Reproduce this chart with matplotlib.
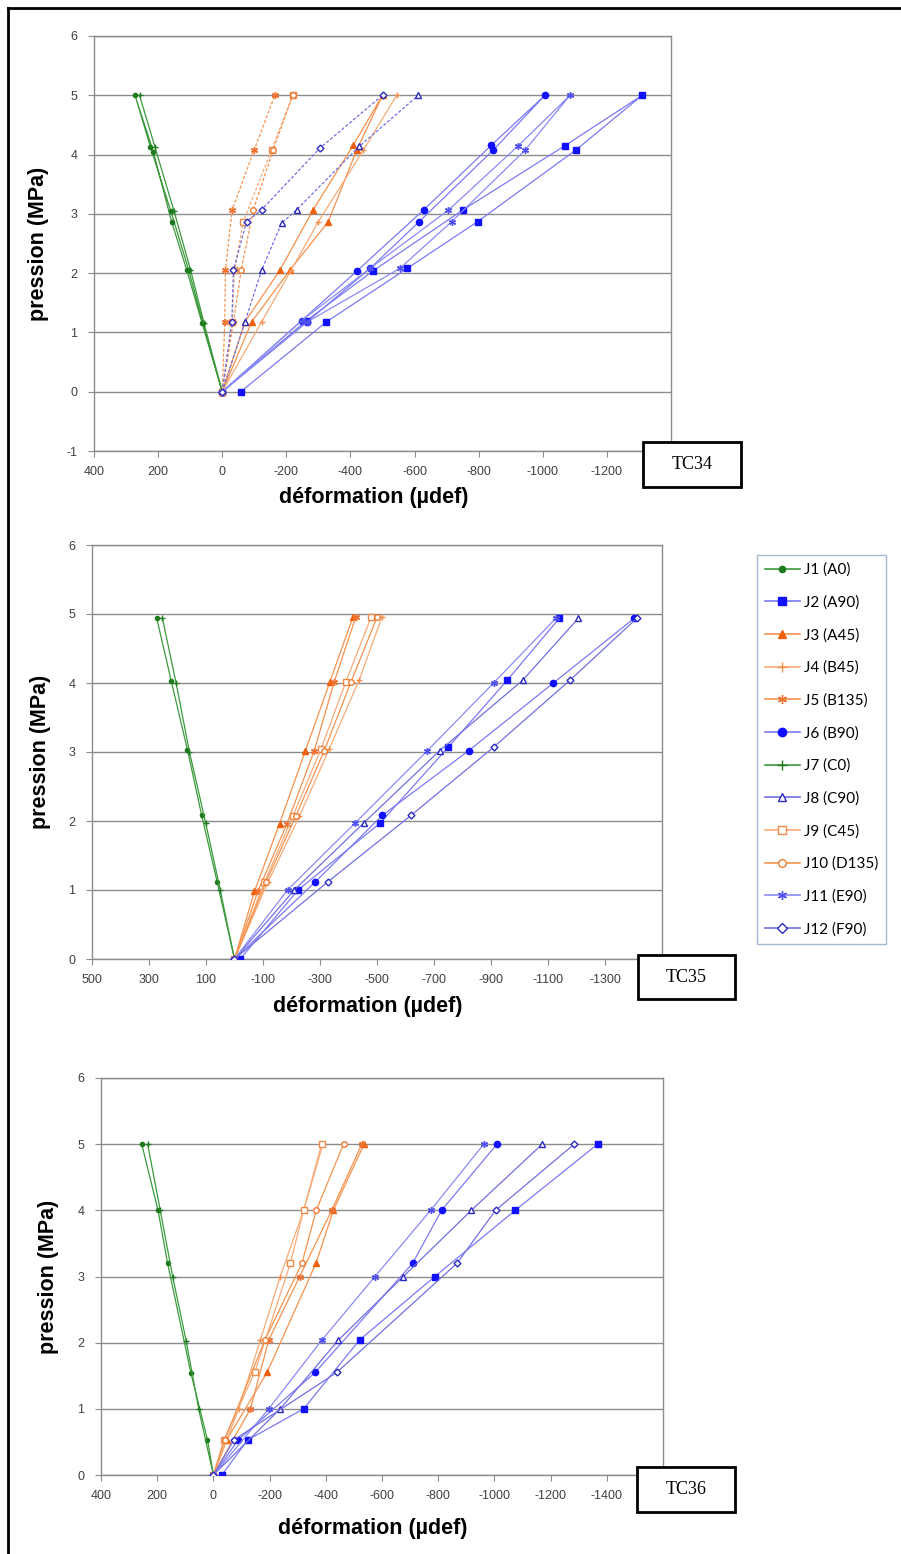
import matplotlib
matplotlib.use('Agg')
import matplotlib.pyplot as plt
from matplotlib.lines import Line2D
from matplotlib.patches import Rectangle

plt.rcParams['font.family'] = ['Liberation Sans', 'DejaVu Sans']
plt.rcParams['axes.unicode_minus'] = False

series = ['J1', 'J2', 'J3', 'J4', 'J5', 'J6', 'J7', 'J8', 'J9', 'J10', 'J11', 'J12']
legend_labels = ['J1 (A0)', 'J2 (A90)', 'J3 (A45)', 'J4 (B45)', 'J5 (B135)', 'J6 (B90)',
                 'J7 (C0)', 'J8 (C90)', 'J9 (C45)', 'J10 (D135)', 'J11 (E90)', 'J12 (F90)']

# ---- TC34 (pression MPa / deformation udef), load + unload loops
tc34_p_j1 = [0, 1.16, 2.06, 2.87, 4.05, 5.0, 4.13, 3.04, 2.06, 1.16, 0]
tc34_s_j1 = [0, 63, 111, 158, 215, 272, 224, 160, 105, 60, 0]
tc34_p_j7 = [0, 1.16, 2.06, 3.04, 4.13, 5.0]
tc34_s_j7 = [0, 57, 99, 150, 210, 258]
tc34_p_j3 = [0, 1.18, 2.05, 2.87, 4.07, 5.0, 4.16, 3.07, 2.05, 1.18, 0]
tc34_s_j3 = [0, -92, -211, -331, -419, -500, -409, -284, -180, -71, 0]
tc34_p_j4 = [0, 1.18, 2.05, 2.87, 4.07, 5.0]
tc34_s_j4 = [0, -123, -215, -300, -440, -544]
tc34_p_j5 = [0, 1.18, 2.05, 3.07, 4.08, 5.0]
tc34_s_j5 = [0, -8, -10, -31, -100, -164]
tc34_p_j9 = [0, 1.18, 2.05, 2.87, 4.08, 5.0]
tc34_s_j9 = [0, -31, -38, -66, -154, -220]
tc34_p_j10 = [0, 1.18, 2.05, 3.07, 4.08, 5.0]
tc34_s_j10 = [0, -35, -59, -97, -159, -220]
tc34_p_j8 = [0, 1.18, 2.05, 2.84, 3.07, 4.14, 5.0]
tc34_s_j8 = [0, -71, -123, -185, -232, -428, -612]
tc34_p_j12 = [0, 1.18, 2.05, 2.87, 3.07, 4.11, 5.0]
tc34_s_j12 = [0, -30, -35, -76, -123, -305, -500]
tc34_p_j2 = [0, 1.17, 2.08, 2.87, 4.08, 5.0, 4.15, 3.07, 2.04, 1.20, 0]
tc34_s_j2 = [-58, -323, -577, -797, -1104, -1310, -1069, -752, -471, -263, 0]
tc34_p_j6 = [0, 1.20, 2.04, 3.07, 4.16, 5.0, 4.08, 2.87, 2.08, 1.17, 0]
tc34_s_j6 = [0, -248, -421, -629, -840, -1007, -846, -615, -461, -263, 0]
tc34_p_j11 = [0, 1.17, 2.08, 2.87, 4.07, 5.0, 4.15, 3.06, 2.08, 1.20, 0]
tc34_s_j11 = [0, -263, -554, -716, -944, -1085, -924, -705, -461, -248, 0]

# ---- TC35
tc35_p_j1 = [0, 1.12, 2.08, 3.03, 4.03, 4.94]
tc35_s_j1 = [0, 61, 115, 165, 222, 273]
tc35_p_j7 = [0, 1.0, 1.97, 3.0, 4.0, 4.94]
tc35_s_j7 = [0, 50, 101, 158, 205, 253]
tc35_p_j3 = [0, 0.98, 1.96, 3.02, 4.02, 4.95]
tc35_s_j3 = [0, -70, -158, -249, -335, -415]
tc35_p_j4 = [0, 1.11, 2.07, 3.05, 4.05, 4.95]
tc35_s_j4 = [0, -117, -228, -333, -438, -517]
tc35_p_j5 = [0, 0.98, 1.96, 3.02, 4.02, 4.95]
tc35_s_j5 = [0, -82, -184, -280, -350, -425]
tc35_p_j9 = [0, 1.11, 2.07, 3.05, 4.02, 4.95]
tc35_s_j9 = [0, -105, -205, -304, -391, -479]
tc35_p_j10 = [0, 1.11, 2.07, 3.02, 4.02, 4.95]
tc35_s_j10 = [0, -110, -215, -315, -409, -500]
tc35_p_j11 = [0, 1.0, 1.97, 3.02, 4.0, 4.94]
tc35_s_j11 = [0, -186, -423, -677, -909, -1128]
tc35_p_j2 = [0, 1.0, 1.97, 3.07, 4.04, 4.94]
tc35_s_j2 = [-20, -223, -511, -750, -957, -1140]
tc35_p_j8 = [0, 1.0, 1.97, 3.02, 4.04, 4.94]
tc35_s_j8 = [0, -210, -453, -720, -1011, -1207]
tc35_p_j6 = [0, 1.12, 2.08, 3.02, 4.0, 4.94]
tc35_s_j6 = [0, -284, -518, -822, -1119, -1403]
tc35_p_j12 = [0, 1.12, 2.08, 3.07, 4.04, 4.94]
tc35_s_j12 = [0, -328, -619, -909, -1177, -1412]

# ---- TC36
tc36_p_j1 = [0, 0.53, 1.54, 3.2, 4.0, 5.0]
tc36_s_j1 = [0, 21, 80, 163, 197, 255]
tc36_p_j7 = [0, 0.99, 2.03, 3.0, 4.0, 5.0]
tc36_s_j7 = [0, 52, 97, 145, 189, 234]
tc36_p_j3 = [0, 0.53, 1.55, 3.2, 4.0, 5.0]
tc36_s_j3 = [0, -47, -191, -365, -427, -536]
tc36_p_j4 = [0, 1.0, 2.04, 3.0, 4.0, 5.0]
tc36_s_j4 = [0, -90, -167, -238, -321, -390]
tc36_p_j5 = [0, 1.0, 2.04, 3.0, 4.0, 5.0]
tc36_s_j5 = [0, -132, -197, -307, -421, -528]
tc36_p_j9 = [0, 0.53, 1.55, 3.2, 4.0, 5.0]
tc36_s_j9 = [0, -37, -147, -274, -321, -385]
tc36_p_j10 = [0, 0.53, 2.04, 3.2, 4.0, 5.0]
tc36_s_j10 = [0, -40, -183, -315, -366, -463]
tc36_p_j11 = [0, 1.0, 2.04, 3.0, 4.0, 5.0]
tc36_s_j11 = [0, -197, -386, -575, -773, -962]
tc36_p_j6 = [0, 0.53, 1.55, 3.2, 4.0, 5.0]
tc36_s_j6 = [0, -88, -362, -709, -812, -1009]
tc36_p_j8 = [0, 1.0, 2.04, 3.0, 4.0, 5.0]
tc36_s_j8 = [0, -238, -445, -676, -918, -1170]
tc36_p_j12 = [0, 0.53, 1.55, 3.2, 4.0, 5.0]
tc36_s_j12 = [0, -73, -439, -867, -1004, -1284]
tc36_p_j2 = [0, 0.53, 1.0, 2.04, 3.0, 4.0, 5.0]
tc36_s_j2 = [-30, -122, -321, -520, -788, -1074, -1367]

# ---- styles: line colour, marker, marker colour, filled, marker size
styles = {
    'J1': ('#3c9a3c', 'o', '#1e7a1e', True, 3),
    'J2': ('#7a7af2', 's', '#1010ff', True, 4.5),
    'J3': ('#f5924e', '^', '#f0600a', True, 4),
    'J4': ('#f7ab78', '+', '#f29050', True, 5),
    'J5': ('#f5924e', (6, 2, 0), '#f07030', True, 5),
    'J6': ('#7a7af2', 'o', '#1010ff', True, 4.5),
    'J7': ('#3c9a3c', '+', '#1e7a1e', True, 5),
    'J8': ('#7070e0', '^', '#2a2ac0', False, 4),
    'J9': ('#f7ab78', 's', '#f08a48', False, 4),
    'J10': ('#f5924e', 'o', '#f07a30', False, 4),
    'J11': ('#8a8af5', (6, 2, 0), '#5050f0', True, 5),
    'J12': ('#7070e0', 'D', '#2a2ac0', False, 3.5),
}

panels = [
    dict(name='TC34', box=(94, 36, 671, 451), xlim=(400, -1400), ylim=(-1, 6),
         ylab_x=-0.097, xlab_y=-0.111, tc=(643, 442, 741, 487),
         dashed=['J5', 'J9', 'J10', 'J8', 'J12'],
         data={'J1': (tc34_p_j1, tc34_s_j1), 'J2': (tc34_p_j2, tc34_s_j2),
               'J3': (tc34_p_j3, tc34_s_j3), 'J4': (tc34_p_j4, tc34_s_j4),
               'J5': (tc34_p_j5, tc34_s_j5), 'J6': (tc34_p_j6, tc34_s_j6),
               'J7': (tc34_p_j7, tc34_s_j7), 'J8': (tc34_p_j8, tc34_s_j8),
               'J9': (tc34_p_j9, tc34_s_j9), 'J10': (tc34_p_j10, tc34_s_j10),
               'J11': (tc34_p_j11, tc34_s_j11), 'J12': (tc34_p_j12, tc34_s_j12)}),
    dict(name='TC35', box=(92, 545, 662, 959), xlim=(500, -1500), ylim=(0, 6),
         ylab_x=-0.091, xlab_y=-0.114, tc=(638, 955, 735, 999), dashed=[],
         data={'J1': (tc35_p_j1, tc35_s_j1), 'J2': (tc35_p_j2, tc35_s_j2),
               'J3': (tc35_p_j3, tc35_s_j3), 'J4': (tc35_p_j4, tc35_s_j4),
               'J5': (tc35_p_j5, tc35_s_j5), 'J6': (tc35_p_j6, tc35_s_j6),
               'J7': (tc35_p_j7, tc35_s_j7), 'J8': (tc35_p_j8, tc35_s_j8),
               'J9': (tc35_p_j9, tc35_s_j9), 'J10': (tc35_p_j10, tc35_s_j10),
               'J11': (tc35_p_j11, tc35_s_j11), 'J12': (tc35_p_j12, tc35_s_j12)}),
    dict(name='TC36', box=(101, 1078, 663, 1475), xlim=(400, -1600), ylim=(0, 6),
         ylab_x=-0.094, xlab_y=-0.134, tc=(637, 1467, 735, 1512), dashed=[],
         data={'J1': (tc36_p_j1, tc36_s_j1), 'J2': (tc36_p_j2, tc36_s_j2),
               'J3': (tc36_p_j3, tc36_s_j3), 'J4': (tc36_p_j4, tc36_s_j4),
               'J5': (tc36_p_j5, tc36_s_j5), 'J6': (tc36_p_j6, tc36_s_j6),
               'J7': (tc36_p_j7, tc36_s_j7), 'J8': (tc36_p_j8, tc36_s_j8),
               'J9': (tc36_p_j9, tc36_s_j9), 'J10': (tc36_p_j10, tc36_s_j10),
               'J11': (tc36_p_j11, tc36_s_j11), 'J12': (tc36_p_j12, tc36_s_j12)}),
]

W, H = 901, 1554
fig = plt.figure(figsize=(W / 100, H / 100), dpi=100)
fig.patch.set_facecolor('white')
GRAY = '#8c8c8c'

for pan in panels:
    l, t, r, b = pan['box']
    ax = fig.add_axes([l / W, 1 - b / H, (r - l) / W, (b - t) / H])
    for k in series:
        p, s = pan['data'][k]
        lc, mk, mc, filled, ms = styles[k]
        ls = (0, (2.5, 1.5)) if k in pan['dashed'] else '-'
        ax.plot(s, p, color=lc, lw=0.9, ls=ls, marker=mk, ms=ms, mec=mc,
                mfc=mc if filled else 'white', mew=1.0, zorder=3)
    ax.set_xlim(pan['xlim'])
    ax.set_ylim(pan['ylim'])
    x0, x1 = pan['xlim']
    xt = list(range(x0, x1 - 1, -200))
    ax.set_xticks(xt)
    # last label sits under the test box in the original, left blank
    ax.set_xticklabels([str(v) for v in xt[:-1]] + [''])
    ax.set_yticks(range(pan['ylim'][0], 7))
    ax.yaxis.grid(True, color=GRAY, lw=1.0)
    ax.set_axisbelow(True)
    for sp in ax.spines.values():
        sp.set_color(GRAY)
        sp.set_linewidth(1.0)
    ax.tick_params(direction='out', length=4, color=GRAY, labelsize=9, labelcolor='#404040')
    ax.tick_params(axis='x', pad=7)
    ax.tick_params(axis='y', pad=8)
    ax.set_xlabel('déformation (µdef)', fontsize=15.5, fontweight='bold', va='center')
    ax.set_ylabel('pression (MPa)', fontsize=15.5, fontweight='bold', va='center')
    ax.xaxis.set_label_coords(0.484, pan['xlab_y'])
    ax.yaxis.set_label_coords(pan['ylab_x'], 0.5)

    # test label box
    bl, bt, br, bb = pan['tc']
    fig.add_artist(Rectangle((bl / W, 1 - bb / H), (br - bl) / W, (bb - bt) / H,
                             transform=fig.transFigure, fc='white', ec='black', lw=2, zorder=10))
    fig.text((bl + br) / 2 / W, 1 - (bt + bb) / 2 / H, pan['name'], ha='center', va='center',
             fontsize=13, family=['Liberation Serif', 'DejaVu Serif'], zorder=11)

# legend on the right
handles = []
for k in series:
    lc, mk, mc, filled, ms = styles[k]
    handles.append(Line2D([], [], color=lc, lw=1.2, marker=mk, ms=ms + 1.5, mec=mc,
                          mfc=mc if filled else 'white', mew=1.0))
leg = fig.legend(handles, legend_labels, loc='upper left', bbox_to_anchor=(757 / W, 1 - 555 / H),
                 borderaxespad=0, frameon=True, fancybox=False, edgecolor='#8ea6c8',
                 labelspacing=1.2, handlelength=2.3, handletextpad=0.3, borderpad=0.5,
                 prop={'family': ['Lato', 'DejaVu Sans'], 'size': 11})
leg.get_frame().set_linewidth(1.0)

# outer frame (left and top edges)
fig.add_artist(Line2D([8 / W, 8 / W], [0, 1 - 8 / H], transform=fig.transFigure, color='black', lw=2))
fig.add_artist(Line2D([8 / W, 1], [1 - 8 / H, 1 - 8 / H], transform=fig.transFigure, color='black', lw=2))

fig.savefig('out.png', dpi=100, facecolor='white')
